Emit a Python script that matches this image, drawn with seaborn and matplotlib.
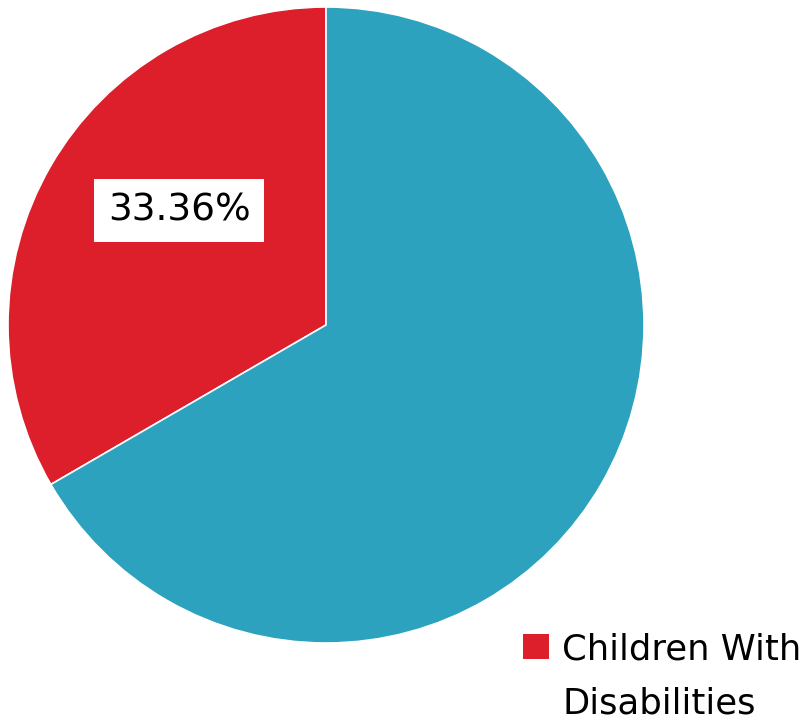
import matplotlib
matplotlib.use("Agg")
import matplotlib.pyplot as plt
import seaborn as sns
from matplotlib.patches import Patch

sns.set_theme(style="white")
plt.rcParams['font.family'] = ['DejaVu Sans']
plt.rcParams['text.color'] = 'black'

categories = ["Children With Disabilities", "Children Without Disabilities"]
values = [33.36, 66.64]
colors = ["#DC1F2B", "#2CA2BF"]

W, H = 808, 721
fig = plt.figure(figsize=(W / 100, H / 100), dpi=100)
fig.patch.set_facecolor("white")
cx, cy, r = 326, 325, 318
ax = fig.add_axes([(cx - r) / W, (H - cy - r) / H, 2 * r / W, 2 * r / H])

wedges, texts, autotexts = ax.pie(
    values, colors=colors, startangle=90, counterclock=True,
    autopct="%.2f%%", pctdistance=0.59,
    wedgeprops=dict(edgecolor="white", linewidth=1.2),
    textprops=dict(fontsize=27, color="black"),
)
ax.set_xlim(-1, 1)
ax.set_ylim(-1, 1)
ax.set_aspect("equal")
ax.axis("off")

# only the red slice carries a visible label
autotexts[1].set_visible(False)
autotexts[0].set_position((-0.462, 0.36))
autotexts[0].set_bbox(dict(facecolor="white", edgecolor="none", boxstyle="square,pad=0.36"))

# legend (only the first entry is visible, wrapped over two lines)
first_line, second_line = "Children With", "Disabilities"
leg = fig.legend(
    handles=[Patch(facecolor=colors[0], edgecolor="none")],
    labels=[first_line],
    loc="center left", bbox_to_anchor=(523 / W, 1 - 649 / H),
    frameon=False, fontsize=25.5, handlelength=0.73, handleheight=0.73,
    handletextpad=0.37, borderpad=0, borderaxespad=0,
    labelcolor="black",
)
fig.text(562 / W, 1 - 713 / H, second_line, fontsize=25.5, color="black",
         ha="left", va="baseline")

fig.savefig("out.png", dpi=100, facecolor="white")
